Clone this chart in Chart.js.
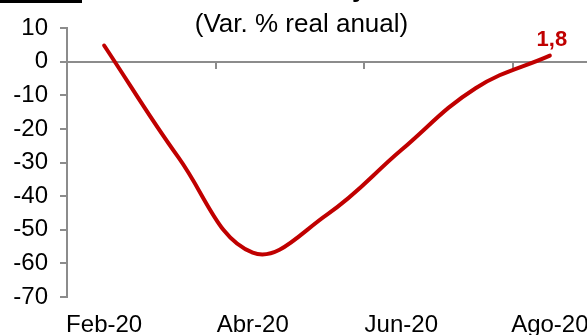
<!DOCTYPE html>
<html>
<head>
<meta charset="utf-8">
<script src="https://cdn.jsdelivr.net/npm/chart.js@4"></script>
<style>
  body { margin: 0; background: #fff; }
  #wrap { width: 587px; height: 335px; }
</style>
</head>
<body>
<div id="wrap"><canvas id="cvg" width="587" height="335"></canvas></div>
<script>
var months = ['Feb-20', 'Mar-20', 'Abr-20', 'May-20', 'Jun-20', 'Jul-20', 'Ago-20'];
var variacion = [4.8, -28.5, -56.8, -45.5, -26.3, -7.9, 1.8];
var yTicks = [10, 0, -10, -20, -30, -40, -50, -60, -70];
var lastLabel = '1,8';
var titulo = '(Var. % real anual)';

var grey = '#8c8c8c';
var fontFam = '"Liberation Sans", Arial, sans-serif';

// title, cut-off header bits and the end label
var extras = {
  id: 'extras',
  afterDraw: function(chart){
    var ctx = chart.ctx;
    ctx.save();
    ctx.fillStyle = '#000';
    ctx.fillRect(0, 0, 82, 3);
    ctx.font = 'bold 26px ' + fontFam;
    ctx.textAlign = 'left';
    ctx.textBaseline = 'alphabetic';
    ctx.fillText('y', 352, -3);
    ctx.font = '26px ' + fontFam;
    ctx.textAlign = 'center';
    ctx.fillText(titulo, 301.5, 32);
    var pts = chart.getDatasetMeta(0).data;
    var p = pts[pts.length - 1];
    ctx.fillStyle = '#C00000';
    ctx.font = 'bold 22px ' + fontFam;
    ctx.fillText(lastLabel, p.x + 2, p.y - 10);
    ctx.restore();
  }
};

var cv = document.getElementById('cvg');
var myLine = new Chart(cv.getContext('2d'), {
  type: 'line',
  data: {
    labels: months,
    datasets: [{
      data: variacion,
      borderColor: '#C00000',
      borderWidth: 4,
      borderCapStyle: 'round',
      pointRadius: 0,
      tension: 0.4,
      fill: false
    }]
  },
  options: {
    responsive: false,
    animation: false,
    devicePixelRatio: 1,
    layout: { padding: { top: 28, right: 0, left: 0, bottom: 0 }, autoPadding: false },
    plugins: { legend: { display: false }, tooltip: { enabled: false }, title: { display: false } },
    scales: {
      x: {
        type: 'category',
        position: { y: 0 },
        offset: true,
        grid: {
          offset: true,
          drawOnChartArea: false,
          drawTicks: true,
          tickLength: 6,
          lineWidth: 2,
          color: function(c){
            return (c.index === 2 || c.index === 4 || c.index === 6) ? grey : 'rgba(0,0,0,0)';
          }
        },
        border: { display: true, color: grey, width: 2 },
        ticks: { display: false }
      },
      x2: {
        type: 'category',
        labels: months,
        position: 'bottom',
        offset: true,
        grid: { display: false, drawTicks: true, tickLength: 14 },
        border: { display: false },
        ticks: {
          autoSkip: false,
          maxRotation: 0,
          padding: 0,
          color: '#000',
          font: { family: fontFam, size: 24 },
          callback: function(v, i){ return i % 2 === 0 ? months[i] : ''; }
        },
        afterFit: function(s){ s.height = 38; s.paddingLeft = 0; s.paddingRight = 0; }
      },
      y: {
        min: -70,
        max: 10,
        afterBuildTicks: function(s){ s.ticks = yTicks.map(function(v){ return { value: v }; }); },
        grid: { drawOnChartArea: false, drawTicks: true, tickLength: 7, lineWidth: 2, color: grey },
        border: { display: true, color: grey, width: 2 },
        ticks: {
          padding: 12,
          color: '#000',
          font: { family: fontFam, size: 24 }
        },
        afterFit: function(s){ s.width = 67; }
      }
    }
  },
  plugins: [extras]
});
</script>
</body>
</html>
